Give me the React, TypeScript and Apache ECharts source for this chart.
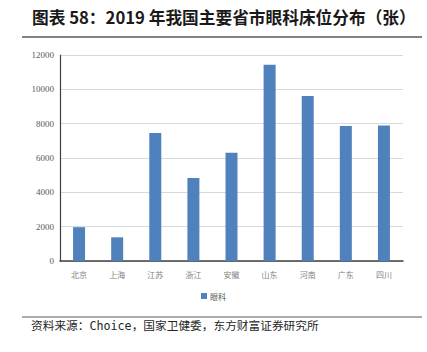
import React, { useEffect, useRef } from "react";
import * as echarts from "echarts";

const categories = ["北京", "上海", "江苏", "浙江", "安徽", "山东", "河南", "广东", "四川"];
const values = [1970, 1380, 7450, 4830, 6300, 11430, 9610, 7870, 7900];
const seriesName = "眼科";
const titleText = "图表 58：2019 年我国主要省市眼科床位分布（张）";
const sourceText = "资料来源：Choice，国家卫健委，东方财富证券研究所";

export default function App() {
  const ref = useRef<HTMLDivElement>(null);
  useEffect(() => {
    const chart = echarts.init(ref.current!, undefined, { renderer: "svg" });
    chart.setOption({
      animation: false,
      backgroundColor: "#ffffff",
      grid: { left: 60, right: 24, top: 55, bottom: 91 },
      xAxis: {
        type: "category",
        data: categories,
        axisLine: { lineStyle: { color: "#404040", width: 1.5 } },
        axisTick: { show: false },
        axisLabel: { color: "#7f7f7f", fontSize: 8, margin: 9, fontFamily: "Noto Sans CJK SC" },
      },
      yAxis: {
        type: "value",
        min: 0,
        max: 12000,
        interval: 2000,
        axisLine: { show: true, lineStyle: { color: "#404040", width: 1.2 } },
        axisTick: { show: false },
        splitLine: { lineStyle: { color: "#d9d9d9", width: 1 } },
        axisLabel: {
          color: "#595959",
          fontSize: 9,
          margin: 6,
          fontFamily: "Liberation Sans Narrow",
          formatter: (v: number) => String(v),
        },
      },
      legend: {
        data: [seriesName],
        bottom: 47,
        left: "center",
        itemWidth: 6,
        itemHeight: 6,
        itemGap: 4,
        icon: "rect",
        textStyle: { color: "#595959", fontSize: 8, fontFamily: "Noto Sans CJK SC", padding: [0, 0, 0, -2] },
      },
      series: [
        {
          name: seriesName,
          type: "bar",
          data: values,
          barWidth: 12,
          itemStyle: { color: "#4f81bd" },
        },
      ],
      graphic: [
        {
          type: "text",
          left: 32,
          top: 9,
          style: {
            text: titleText,
            fill: "#1a1a1a",
            font: "bold 16.7px 'Noto Sans CJK SC'",
          },
        },
        {
          type: "line",
          shape: { x1: 22, y1: 37, x2: 422, y2: 37 },
          style: { stroke: "#595959", lineWidth: 1.5 },
        },
        {
          type: "line",
          shape: { x1: 22, y1: 317, x2: 422, y2: 317 },
          style: { stroke: "#595959", lineWidth: 1 },
        },
        {
          type: "text",
          left: 31,
          top: 320,
          style: {
            text: sourceText,
            fill: "#262626",
            font: "11.7px 'DejaVu Sans Mono', 'Noto Sans CJK SC'",
          },
        },
      ],
    });
    return () => chart.dispose();
  }, []);
  return (
    <div
      ref={ref}
      style={{ position: "fixed", left: 0, top: 0, width: 427, height: 352 }}
    />
  );
}
